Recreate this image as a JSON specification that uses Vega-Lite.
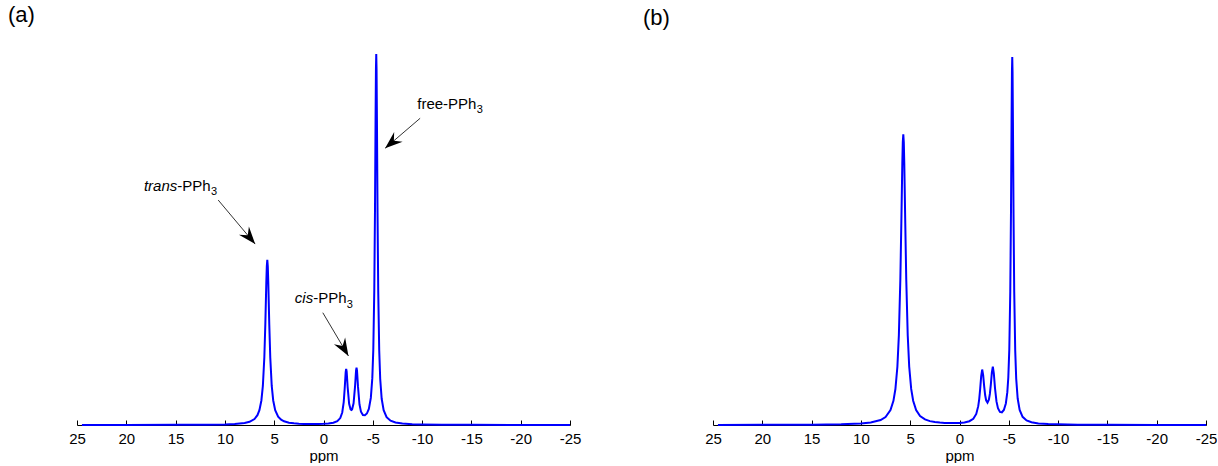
{
  "$schema": "https://vega.github.io/schema/vega-lite/v6.json",
  "background": "white",
  "padding": {"left": 8, "top": 4, "right": 0, "bottom": 0},
  "bounds": "flush",
  "spacing": 143,
  "config": {
    "view": {"stroke": null},
    "font": "Liberation Sans",
    "axisX": {
      "values": [25, 20, 15, 10, 5, 0, -5, -10, -15, -20, -25],
      "labelExpr": "'' + datum.value",
      "tickSize": -5,
      "labelPadding": 11,
      "titlePadding": 2,
      "domainColor": "#000000",
      "tickColor": "#000000",
      "labelColor": "#000000",
      "titleColor": "#000000",
      "labelFontSize": 15,
      "titleFontSize": 15,
      "titleFontWeight": "normal",
      "labelFont": "Liberation Sans",
      "titleFont": "Liberation Sans",
      "grid": false,
      "labelFlush": false,
      "labelOverlap": false
    },
    "title": {"font": "Liberation Sans", "fontSize": 22, "fontWeight": "normal", "color": "#000000", "anchor": "start", "frame": "group", "baseline": "alphabetic", "offset": 23}
  },
  "datasets": {
    "spectra": [
      {"panel": "a", "ppm": 24.5, "intensity": 0.00012},
      {"panel": "a", "ppm": 20, "intensity": 0.00019},
      {"panel": "a", "ppm": 15, "intensity": 0.00041},
      {"panel": "a", "ppm": 12, "intensity": 0.00083},
      {"panel": "a", "ppm": 10, "intensity": 0.00167},
      {"panel": "a", "ppm": 9, "intensity": 0.00274},
      {"panel": "a", "ppm": 8, "intensity": 0.00543},
      {"panel": "a", "ppm": 7.5, "intensity": 0.00869},
      {"panel": "a", "ppm": 7, "intensity": 0.01618},
      {"panel": "a", "ppm": 6.7, "intensity": 0.02652},
      {"panel": "a", "ppm": 6.5, "intensity": 0.03997},
      {"panel": "a", "ppm": 6.3, "intensity": 0.06628},
      {"panel": "a", "ppm": 6.15, "intensity": 0.10549},
      {"panel": "a", "ppm": 6.0, "intensity": 0.18309},
      {"panel": "a", "ppm": 5.9, "intensity": 0.27225},
      {"panel": "a", "ppm": 5.8, "intensity": 0.38478},
      {"panel": "a", "ppm": 5.75, "intensity": 0.42915},
      {"panel": "a", "ppm": 5.7, "intensity": 0.44634},
      {"panel": "a", "ppm": 5.65, "intensity": 0.42916},
      {"panel": "a", "ppm": 5.6, "intensity": 0.38478},
      {"panel": "a", "ppm": 5.5, "intensity": 0.27225},
      {"panel": "a", "ppm": 5.4, "intensity": 0.18309},
      {"panel": "a", "ppm": 5.25, "intensity": 0.10549},
      {"panel": "a", "ppm": 5.1, "intensity": 0.06628},
      {"panel": "a", "ppm": 4.9, "intensity": 0.04009},
      {"panel": "a", "ppm": 4.6, "intensity": 0.02235},
      {"panel": "a", "ppm": 4.3, "intensity": 0.01425},
      {"panel": "a", "ppm": 4.0, "intensity": 0.00995},
      {"panel": "a", "ppm": 3.5, "intensity": 0.00627},
      {"panel": "a", "ppm": 3.0, "intensity": 0.00446},
      {"panel": "a", "ppm": 2.5, "intensity": 0.00349},
      {"panel": "a", "ppm": 2.0, "intensity": 0.00296},
      {"panel": "a", "ppm": 1.5, "intensity": 0.0027},
      {"panel": "a", "ppm": 1.0, "intensity": 0.00265},
      {"panel": "a", "ppm": 0.5, "intensity": 0.00281},
      {"panel": "a", "ppm": 0.0, "intensity": 0.00323},
      {"panel": "a", "ppm": -0.5, "intensity": 0.00414},
      {"panel": "a", "ppm": -1.0, "intensity": 0.00618},
      {"panel": "a", "ppm": -1.4, "intensity": 0.01027},
      {"panel": "a", "ppm": -1.7, "intensity": 0.01868},
      {"panel": "a", "ppm": -1.9, "intensity": 0.03386},
      {"panel": "a", "ppm": -2.05, "intensity": 0.06205},
      {"panel": "a", "ppm": -2.15, "intensity": 0.0987},
      {"panel": "a", "ppm": -2.25, "intensity": 0.14292},
      {"panel": "a", "ppm": -2.3, "intensity": 0.1519},
      {"panel": "a", "ppm": -2.35, "intensity": 0.144},
      {"panel": "a", "ppm": -2.45, "intensity": 0.10203},
      {"panel": "a", "ppm": -2.6, "intensity": 0.05725},
      {"panel": "a", "ppm": -2.75, "intensity": 0.04188},
      {"panel": "a", "ppm": -2.825, "intensity": 0.04043},
      {"panel": "a", "ppm": -2.9, "intensity": 0.04229},
      {"panel": "a", "ppm": -3.05, "intensity": 0.0585},
      {"panel": "a", "ppm": -3.2, "intensity": 0.10417},
      {"panel": "a", "ppm": -3.3, "intensity": 0.14678},
      {"panel": "a", "ppm": -3.35, "intensity": 0.15502},
      {"panel": "a", "ppm": -3.4, "intensity": 0.1464},
      {"panel": "a", "ppm": -3.5, "intensity": 0.10296},
      {"panel": "a", "ppm": -3.65, "intensity": 0.0555},
      {"panel": "a", "ppm": -3.8, "intensity": 0.03592},
      {"panel": "a", "ppm": -4.0, "intensity": 0.02698},
      {"panel": "a", "ppm": -4.2, "intensity": 0.02621},
      {"panel": "a", "ppm": -4.4, "intensity": 0.03101},
      {"panel": "a", "ppm": -4.6, "intensity": 0.04348},
      {"panel": "a", "ppm": -4.8, "intensity": 0.07318},
      {"panel": "a", "ppm": -4.95, "intensity": 0.12665},
      {"panel": "a", "ppm": -5.05, "intensity": 0.20305},
      {"panel": "a", "ppm": -5.15, "intensity": 0.36279},
      {"panel": "a", "ppm": -5.22, "intensity": 0.57369},
      {"panel": "a", "ppm": -5.28, "intensity": 0.82367},
      {"panel": "a", "ppm": -5.32, "intensity": 0.96396},
      {"panel": "a", "ppm": -5.35, "intensity": 1.00237},
      {"panel": "a", "ppm": -5.38, "intensity": 0.96385},
      {"panel": "a", "ppm": -5.42, "intensity": 0.82342},
      {"panel": "a", "ppm": -5.48, "intensity": 0.57322},
      {"panel": "a", "ppm": -5.55, "intensity": 0.36205},
      {"panel": "a", "ppm": -5.65, "intensity": 0.20192},
      {"panel": "a", "ppm": -5.75, "intensity": 0.12508},
      {"panel": "a", "ppm": -5.9, "intensity": 0.07088},
      {"panel": "a", "ppm": -6.1, "intensity": 0.03994},
      {"panel": "a", "ppm": -6.4, "intensity": 0.02127},
      {"panel": "a", "ppm": -6.8, "intensity": 0.01165},
      {"panel": "a", "ppm": -7.3, "intensity": 0.00663},
      {"panel": "a", "ppm": -8, "intensity": 0.00379},
      {"panel": "a", "ppm": -9, "intensity": 0.00212},
      {"panel": "a", "ppm": -10, "intensity": 0.00138},
      {"panel": "a", "ppm": -12, "intensity": 0.00074},
      {"panel": "a", "ppm": -15, "intensity": 0.00039},
      {"panel": "a", "ppm": -20, "intensity": 0.00019},
      {"panel": "a", "ppm": -25, "intensity": 0.00011},
      {"panel": "b", "ppm": 24.5, "intensity": 0.00025},
      {"panel": "b", "ppm": 20, "intensity": 0.00042},
      {"panel": "b", "ppm": 15, "intensity": 0.00094},
      {"panel": "b", "ppm": 12, "intensity": 0.00194},
      {"panel": "b", "ppm": 10, "intensity": 0.00402},
      {"panel": "b", "ppm": 9, "intensity": 0.00669},
      {"panel": "b", "ppm": 8, "intensity": 0.01344},
      {"panel": "b", "ppm": 7.5, "intensity": 0.02156},
      {"panel": "b", "ppm": 7, "intensity": 0.04008},
      {"panel": "b", "ppm": 6.7, "intensity": 0.06523},
      {"panel": "b", "ppm": 6.5, "intensity": 0.09723},
      {"panel": "b", "ppm": 6.3, "intensity": 0.1575},
      {"panel": "b", "ppm": 6.15, "intensity": 0.24211},
      {"panel": "b", "ppm": 6.0, "intensity": 0.39318},
      {"panel": "b", "ppm": 5.9, "intensity": 0.54425},
      {"panel": "b", "ppm": 5.8, "intensity": 0.7074},
      {"panel": "b", "ppm": 5.75, "intensity": 0.76473},
      {"panel": "b", "ppm": 5.7, "intensity": 0.78596},
      {"panel": "b", "ppm": 5.65, "intensity": 0.76473},
      {"panel": "b", "ppm": 5.6, "intensity": 0.7074},
      {"panel": "b", "ppm": 5.5, "intensity": 0.54425},
      {"panel": "b", "ppm": 5.4, "intensity": 0.39318},
      {"panel": "b", "ppm": 5.25, "intensity": 0.24213},
      {"panel": "b", "ppm": 5.1, "intensity": 0.15753},
      {"panel": "b", "ppm": 4.9, "intensity": 0.09741},
      {"panel": "b", "ppm": 4.7, "intensity": 0.06544},
      {"panel": "b", "ppm": 4.4, "intensity": 0.04035},
      {"panel": "b", "ppm": 4.0, "intensity": 0.02442},
      {"panel": "b", "ppm": 3.5, "intensity": 0.01514},
      {"panel": "b", "ppm": 3.0, "intensity": 0.01051},
      {"panel": "b", "ppm": 2.5, "intensity": 0.00794},
      {"panel": "b", "ppm": 2.0, "intensity": 0.00644},
      {"panel": "b", "ppm": 1.5, "intensity": 0.00559},
      {"panel": "b", "ppm": 1.0, "intensity": 0.0052},
      {"panel": "b", "ppm": 0.5, "intensity": 0.00522},
      {"panel": "b", "ppm": 0.0, "intensity": 0.00573},
      {"panel": "b", "ppm": -0.5, "intensity": 0.00706},
      {"panel": "b", "ppm": -1.0, "intensity": 0.01027},
      {"panel": "b", "ppm": -1.4, "intensity": 0.01683},
      {"panel": "b", "ppm": -1.7, "intensity": 0.0298},
      {"panel": "b", "ppm": -1.9, "intensity": 0.05089},
      {"panel": "b", "ppm": -2.0, "intensity": 0.0702},
      {"panel": "b", "ppm": -2.1, "intensity": 0.09846},
      {"panel": "b", "ppm": -2.2, "intensity": 0.13184},
      {"panel": "b", "ppm": -2.3, "intensity": 0.1499},
      {"panel": "b", "ppm": -2.4, "intensity": 0.13507},
      {"panel": "b", "ppm": -2.5, "intensity": 0.10519},
      {"panel": "b", "ppm": -2.6, "intensity": 0.08103},
      {"panel": "b", "ppm": -2.7, "intensity": 0.06683},
      {"panel": "b", "ppm": -2.84, "intensity": 0.06069},
      {"panel": "b", "ppm": -2.98, "intensity": 0.06845},
      {"panel": "b", "ppm": -3.08, "intensity": 0.084},
      {"panel": "b", "ppm": -3.18, "intensity": 0.10983},
      {"panel": "b", "ppm": -3.28, "intensity": 0.14156},
      {"panel": "b", "ppm": -3.38, "intensity": 0.15771},
      {"panel": "b", "ppm": -3.48, "intensity": 0.13982},
      {"panel": "b", "ppm": -3.6, "intensity": 0.09972},
      {"panel": "b", "ppm": -3.75, "intensity": 0.06377},
      {"panel": "b", "ppm": -3.9, "intensity": 0.04549},
      {"panel": "b", "ppm": -4.1, "intensity": 0.03552},
      {"panel": "b", "ppm": -4.3, "intensity": 0.03439},
      {"panel": "b", "ppm": -4.5, "intensity": 0.04056},
      {"panel": "b", "ppm": -4.7, "intensity": 0.05826},
      {"panel": "b", "ppm": -4.85, "intensity": 0.08867},
      {"panel": "b", "ppm": -4.95, "intensity": 0.1283},
      {"panel": "b", "ppm": -5.05, "intensity": 0.20367},
      {"panel": "b", "ppm": -5.15, "intensity": 0.36158},
      {"panel": "b", "ppm": -5.22, "intensity": 0.57024},
      {"panel": "b", "ppm": -5.28, "intensity": 0.81761},
      {"panel": "b", "ppm": -5.32, "intensity": 0.95642},
      {"panel": "b", "ppm": -5.35, "intensity": 0.9944},
      {"panel": "b", "ppm": -5.38, "intensity": 0.95623},
      {"panel": "b", "ppm": -5.42, "intensity": 0.81713},
      {"panel": "b", "ppm": -5.48, "intensity": 0.56935},
      {"panel": "b", "ppm": -5.55, "intensity": 0.36021},
      {"panel": "b", "ppm": -5.65, "intensity": 0.20156},
      {"panel": "b", "ppm": -5.75, "intensity": 0.12539},
      {"panel": "b", "ppm": -5.9, "intensity": 0.07158},
      {"panel": "b", "ppm": -6.1, "intensity": 0.0408},
      {"panel": "b", "ppm": -6.4, "intensity": 0.02215},
      {"panel": "b", "ppm": -6.8, "intensity": 0.01246},
      {"panel": "b", "ppm": -7.3, "intensity": 0.00732},
      {"panel": "b", "ppm": -8, "intensity": 0.00434},
      {"panel": "b", "ppm": -9, "intensity": 0.00255},
      {"panel": "b", "ppm": -10, "intensity": 0.00172},
      {"panel": "b", "ppm": -12, "intensity": 0.00098},
      {"panel": "b", "ppm": -15, "intensity": 0.00054},
      {"panel": "b", "ppm": -20, "intensity": 0.00028},
      {"panel": "b", "ppm": -25, "intensity": 0.00017}
    ],
    "notes": [
      {"label": "trans", "prefix": "trans", "rest": "-PPh", "sub": "3", "tx": 14.83, "ty": 0.646, "ax": 10.68, "ay": 0.608, "hx": 6.93, "hy": 0.489},
      {"label": "cis", "prefix": "cis", "rest": "-PPh", "sub": "3", "tx": 1.05, "ty": 0.343, "ax": 0.07, "ay": 0.3035, "hx": -2.53, "hy": 0.1865},
      {"label": "free", "prefix": "free", "rest": "-PPh", "sub": "3", "tx": -12.13, "ty": 0.868, "ax": -9.8, "ay": 0.829, "hx": -6.25, "hy": 0.748}
    ]
  },
  "hconcat": [
    {
      "width": 493,
      "height": 370,
      "title": {"text": "(a)", "dx": -69},
      "layer": [
        {
          "data": {"name": "spectra"},
          "transform": [{"filter": "datum.panel === 'a'"}],
          "mark": {"type": "line", "color": "#0000ff", "strokeWidth": 2, "clip": false},
          "encoding": {
            "x": {"field": "ppm", "type": "quantitative", "title": "ppm", "scale": {"domain": [-25, 25], "reverse": true, "nice": false, "zero": false}},
            "y": {"field": "intensity", "type": "quantitative", "axis": null, "scale": {"domain": [0, 1], "nice": false}}
          }
        },
        {
          "data": {"name": "notes"},
          "mark": {"type": "rule", "color": "#333333", "strokeWidth": 1},
          "encoding": {
            "x": {"field": "ax", "type": "quantitative", "title": "ppm"},
            "x2": {"field": "hx"},
            "y": {"field": "ay", "type": "quantitative", "axis": null},
            "y2": {"field": "hy"}
          }
        },
        {
          "data": {"name": "notes"},
          "transform": [{"filter": "datum.label === 'trans'"}],
          "mark": {"type": "point", "shape": "M0,0 L0.65,1.75 L0,1.15 L-0.65,1.75 Z", "angle": 140, "size": 400, "filled": true, "color": "#000000", "opacity": 1},
          "encoding": {
            "x": {"field": "hx", "type": "quantitative", "title": "ppm"},
            "y": {"field": "hy", "type": "quantitative", "axis": null}
          }
        },
        {
          "data": {"name": "notes"},
          "transform": [{"filter": "datum.label === 'cis'"}],
          "mark": {"type": "point", "shape": "M0,0 L0.65,1.75 L0,1.15 L-0.65,1.75 Z", "angle": 149.4, "size": 400, "filled": true, "color": "#000000", "opacity": 1},
          "encoding": {
            "x": {"field": "hx", "type": "quantitative", "title": "ppm"},
            "y": {"field": "hy", "type": "quantitative", "axis": null}
          }
        },
        {
          "data": {"name": "notes"},
          "transform": [{"filter": "datum.label === 'free'"}],
          "mark": {"type": "point", "shape": "M0,0 L0.65,1.75 L0,1.15 L-0.65,1.75 Z", "angle": 229.4, "size": 400, "filled": true, "color": "#000000", "opacity": 1},
          "encoding": {
            "x": {"field": "hx", "type": "quantitative", "title": "ppm"},
            "y": {"field": "hy", "type": "quantitative", "axis": null}
          }
        },
        {
          "data": {"name": "notes"},
          "transform": [{"filter": "datum.label !== 'free'"}],
          "mark": {"type": "text", "align": "right", "baseline": "middle", "fontSize": 15, "fontStyle": "italic", "font": "Liberation Sans", "color": "#000000"},
          "encoding": {
            "x": {"field": "tx", "type": "quantitative", "title": "ppm"},
            "y": {"field": "ty", "type": "quantitative", "axis": null},
            "text": {"field": "prefix"}
          }
        },
        {
          "data": {"name": "notes"},
          "transform": [{"filter": "datum.label === 'free'"}],
          "mark": {"type": "text", "align": "right", "baseline": "middle", "fontSize": 15, "font": "Liberation Sans", "color": "#000000"},
          "encoding": {
            "x": {"field": "tx", "type": "quantitative", "title": "ppm"},
            "y": {"field": "ty", "type": "quantitative", "axis": null},
            "text": {"field": "prefix"}
          }
        },
        {
          "data": {"name": "notes"},
          "mark": {"type": "text", "align": "left", "baseline": "middle", "fontSize": 15, "font": "Liberation Sans", "color": "#000000"},
          "encoding": {
            "x": {"field": "tx", "type": "quantitative", "title": "ppm"},
            "y": {"field": "ty", "type": "quantitative", "axis": null},
            "text": {"field": "rest"}
          }
        },
        {
          "data": {"name": "notes"},
          "mark": {"type": "text", "align": "left", "baseline": "middle", "fontSize": 11, "dx": 33.6, "dy": 6.5, "font": "Liberation Sans", "color": "#000000"},
          "encoding": {
            "x": {"field": "tx", "type": "quantitative", "title": "ppm"},
            "y": {"field": "ty", "type": "quantitative", "axis": null},
            "text": {"field": "sub"}
          }
        }
      ]
    },
    {
      "width": 493,
      "height": 370,
      "title": {"text": "(b)", "dx": -70},
      "layer": [
        {
          "data": {"name": "spectra"},
          "transform": [{"filter": "datum.panel === 'b'"}],
          "mark": {"type": "line", "color": "#0000ff", "strokeWidth": 2, "clip": false},
          "encoding": {
            "x": {"field": "ppm", "type": "quantitative", "title": "ppm", "scale": {"domain": [-25, 25], "reverse": true, "nice": false, "zero": false}},
            "y": {"field": "intensity", "type": "quantitative", "axis": null, "scale": {"domain": [0, 1], "nice": false}}
          }
        }
      ]
    }
  ]
}
